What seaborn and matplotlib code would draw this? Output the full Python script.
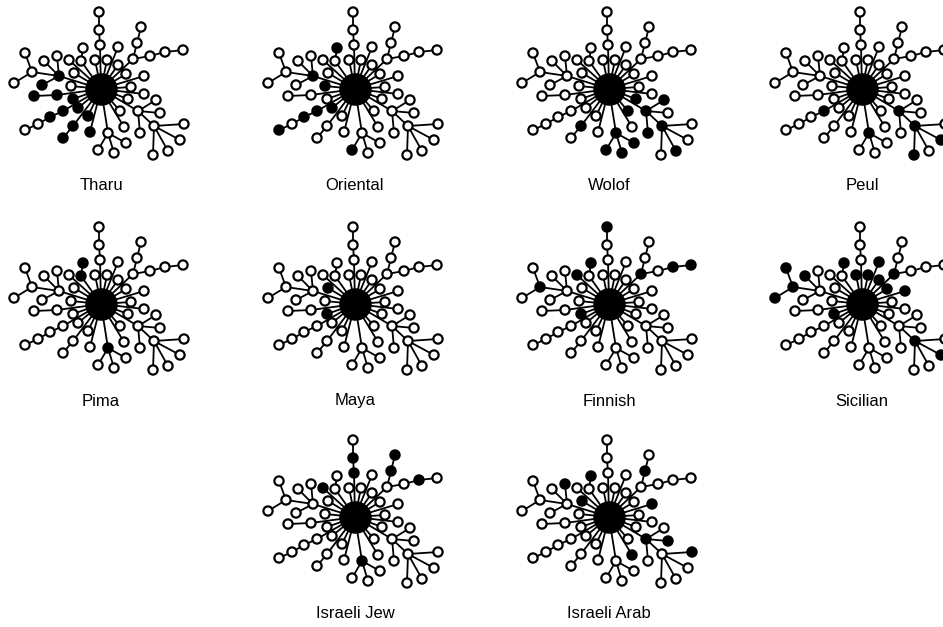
import matplotlib
matplotlib.use("Agg")
import matplotlib.pyplot as plt
import seaborn as sns
import pandas as pd

# populations in reading order and the haplotypes (nodes) observed in each
populations = ["Tharu", "Oriental", "Wolof", "Peul",
               "Pima", "Maya", "Finnish", "Sicilian",
               "Israeli Jew", "Israeli Arab"]

filled = {
    "Tharu": ["LU1", "LU2", "M7", "M7b", "I10", "I9", "LLc1", "LLc2", "I8", "LL1", "LL2", "M5"],
    "Oriental": ["T1", "LU1", "I11", "I9", "LLc1", "LLc2", "LLc4", "D2"],
    "Wolof": ["I6", "I7", "LR1", "LR2", "LR4", "LR9", "D1", "D2", "D3", "D4", "LR7", "LL1"],
    "Peul": ["LLc1", "LR1", "LR4", "LR8", "LR6", "D1"],
    "Pima": ["I13", "T1", "D1"],
    "Maya": ["I12", "I10"],
    "Finnish": ["U3", "T1", "M6", "LU3", "R1", "R5", "R6", "I10"],
    "Sicilian": ["LU4", "LU3", "LU5", "LU6", "T1", "I1", "I2", "I3", "M1", "R1",
                 "I4", "M2", "I10", "LR4", "LR6"],
    "Israeli Jew": ["U1", "U2", "M6", "R2", "R3", "R5", "D1"],
    "Israeli Arab": ["LU7", "T1", "R2", "I12", "M2", "LR1", "LR3", "LR5", "M4"],
}

# network layout shared by all panels: node -> (dx, dy, parent), pixels from hub
TREE = {
    "U1": (-1, -44, "hub"), "U2": (-2, -59, "U1"), "U3": (-2, -77, "U2"),
    "I1": (-6, -29, "hub"), "I2": (6, -29, "hub"), "I3": (17, -24, "hub"),
    "M1": (17, -42, "hub"),
    "R1": (32, -30, "hub"), "R2": (36, -46, "R1"), "R3": (40, -62, "R2"),
    "R4": (49, -33, "R1"), "R5": (64, -37, "R4"), "R6": (82, -39, "R5"),
    "I4": (25, -15, "hub"), "M2": (43, -13, "hub"), "I5": (30, -2, "hub"),
    "M3": (43, 5, "hub"), "I6": (27, 10, "hub"),
    "LR1": (37, 22, "hub"), "LR2": (55, 11, "LR1"), "LR3": (59, 24, "LR1"),
    "LR4": (53, 37, "LR1"), "LR9": (39, 44, "LR1"),
    "LR5": (83, 35, "LR4"), "LR6": (79, 51, "LR4"), "LR7": (67, 62, "LR4"),
    "LR8": (52, 66, "LR4"),
    "I7": (19, 22, "hub"), "M4": (23, 38, "hub"),
    "D1": (7, 44, "hub"), "D2": (-3, 61, "D1"), "D3": (13, 64, "D1"), "D4": (25, 54, "D1"),
    "M5": (-11, 43, "hub"), "I8": (-13, 27, "hub"),
    "LL1": (-28, 37, "hub"), "LL2": (-38, 49, "LL1"),
    "I9": (-23, 19, "hub"),
    "LLc1": (-38, 22, "hub"), "LLc2": (-51, 28, "LLc1"), "LLc3": (-63, 35, "LLc2"),
    "LLc4": (-76, 41, "LLc3"),
    "I10": (-28, 10, "hub"), "M7": (-44, 6, "hub"), "M7b": (-67, 7, "M7"),
    "I11": (-30, -3, "hub"),
    "LU1": (-42, -13, "hub"), "LU2": (-59, -4, "LU1"), "LU3": (-69, -17, "LU1"),
    "LU4": (-76, -36, "LU3"), "LU5": (-87, -6, "LU3"), "LU6": (-57, -28, "LU1"),
    "LU7": (-44, -33, "LU1"),
    "I12": (-27, -16, "hub"), "M6": (-32, -29, "hub"),
    "I13": (-20, -28, "hub"), "T1": (-18, -41, "I13"),
}

col_x = [101, 355, 609, 862]
row_y = [89, 304, 517]
panel_pos = [(0, 0), (0, 1), (0, 2), (0, 3),
             (1, 0), (1, 1), (1, 2), (1, 3),
             (2, 1), (2, 2)]

sns.set_style("white")
fig = plt.figure(figsize=(9.43, 6.27), dpi=100)
ax = fig.add_axes([0, 0, 1, 1])

rows = []
for pop, (r, c) in zip(populations, panel_pos):
    cx, cy = col_x[c], row_y[r]
    for name, (dx, dy, parent) in TREE.items():
        if parent == "hub":
            px, py = cx, cy
        else:
            px, py = cx + TREE[parent][0], cy + TREE[parent][1]
        ax.plot([px, cx + dx], [py, cy + dy], color="black", lw=1.3, zorder=1,
                solid_capstyle="butt")
        rows.append({"pop": pop, "node": name, "x": cx + dx, "y": cy + dy,
                     "state": "filled" if name in filled[pop] else "open"})
    ax.text(cx, cy + 97, pop, ha="center", va="center", fontsize=12,
            color="black", family=["Liberation Sans", "DejaVu Sans"])

nodes = pd.DataFrame(rows)
sns.scatterplot(data=nodes, x="x", y="y", hue="state",
                palette={"filled": "black", "open": "white"},
                edgecolor="black", linewidth=1.6, s=44, legend=False,
                zorder=3, ax=ax)

hubs = pd.DataFrame({"x": [col_x[c] for r, c in panel_pos],
                     "y": [row_y[r] for r, c in panel_pos]})
sns.scatterplot(data=hubs, x="x", y="y", color="black", edgecolor="black",
                s=470, legend=False, zorder=4, ax=ax)

ax.set_xlim(0, 943)
ax.set_ylim(627, 0)
ax.axis("off")
fig.savefig("out.png", dpi=100)
